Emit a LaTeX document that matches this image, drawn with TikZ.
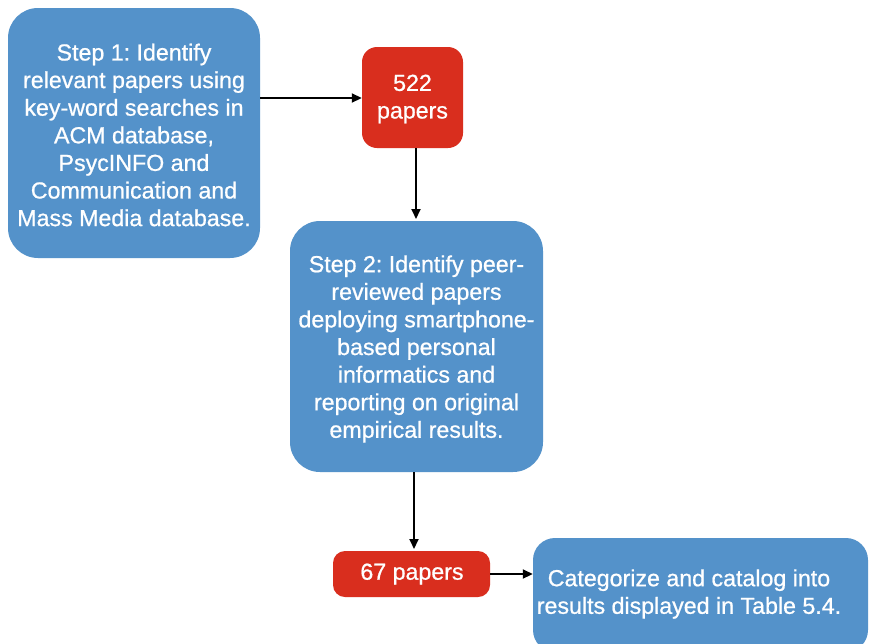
\documentclass[tikz,border=0pt]{standalone}
\usepackage{fontspec}
\setmainfont{Liberation Sans}
\newfontfamily\boxfont[FakeBold=0.8]{Liberation Sans}
\usetikzlibrary{arrows.meta}
\definecolor{stepblue}{RGB}{84,146,202}
\definecolor{countred}{RGB}{217,46,30}
\tikzset{
  boxtext/.style={text=white, align=center, font=\boxfont\frenchspacing\fontsize{23.2}{27.6}\selectfont},
  bluebox/.style={fill=stepblue, rounded corners=30pt, inner sep=0pt},
  redbox/.style={fill=countred, inner sep=0pt},
  flow/.style={draw=black, line width=1.8pt, -{Triangle[length=10pt,width=9pt]}},
}
\begin{document}
\begin{tikzpicture}[x=1pt,y=-1pt]
\useasboundingbox[fill=white] (0,0) rectangle (869,643);
\begin{scope}
\clip (0,0) rectangle (869,643);

% step 1
\node[bluebox, minimum width=252pt, minimum height=250pt] (s1) at (134,133) {};
\node[boxtext] at (134,135) {Step 1: Identify\\relevant papers using\\key-word searches in\\ACM database,\\PsycINFO and\\Communication and\\Mass Media database.};

% 522 papers
\node[redbox, rounded corners=15pt, minimum width=101pt, minimum height=101pt] (n522) at (412.5,97.5) {};
\node[boxtext] at (412.5,99) {522\\papers};

% step 2
\node[bluebox, minimum width=253pt, minimum height=251pt] (s2) at (416.5,346.5) {};
\node[boxtext] at (416.5,349) {Step 2: Identify peer-\\reviewed papers\\deploying smartphone-\\based personal\\informatics and\\reporting on original\\empirical results.};

% 67 papers
\node[redbox, rounded corners=12pt, minimum width=157pt, minimum height=46pt] (n67) at (411.5,574) {};
\node[boxtext] at (412,574) {67 papers};

% categorize
\node[bluebox, rounded corners=22pt, minimum width=335pt, minimum height=114pt] (cat) at (700.5,595) {};
\node[boxtext] at (689,594) {Categorize and catalog into\\results displayed in Table 5.4.};

% connectors
\draw[flow] (s1.east |- 0,98) -- (n522.west |- 0,98);
\draw[flow] (416,148) coordinate (a1) -- (416,219) coordinate (a2);
\draw[flow] (414,472) coordinate (b1) -- (414,549) coordinate (b2);
\draw[flow] (n67.east) -- (cat.west |- n67.east);
\end{scope}
\end{tikzpicture}
\end{document}
